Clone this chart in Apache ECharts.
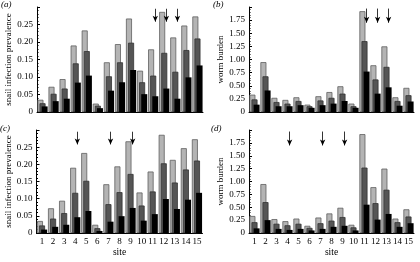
<!DOCTYPE html>
<html>
<head>
<meta charset="utf-8">
<script src="https://cdn.jsdelivr.net/npm/echarts@6/dist/echarts.min.js"></script>
<style>
html, body { margin: 0; padding: 0; background: #fff; }
#chart { width: 420px; height: 262px; }
</style>
</head>
<body>
<div id="chart"></div>
<script>
const sites = ['1', '2', '3', '4', '5', '6', '7', '8', '9', '10', '11', '12', '13', '14', '15'];

// snail infection prevalence: observed (light), two model fits (dark, black)
const prevObserved = [0.035, 0.072, 0.094, 0.190, 0.233, 0.024, 0.142, 0.194, 0.267, 0.118, 0.179, 0.286, 0.213, 0.247, 0.273];
const prevA_mid = [0.025, 0.052, 0.067, 0.139, 0.174, 0.018, 0.102, 0.142, 0.198, 0.085, 0.104, 0.169, 0.115, 0.177, 0.210];
const prevA_low = [0.016, 0.031, 0.038, 0.084, 0.104, 0.011, 0.061, 0.085, 0.120, 0.051, 0.045, 0.067, 0.038, 0.099, 0.133];
const prevC_mid = [0.022, 0.042, 0.058, 0.117, 0.152, 0.014, 0.084, 0.119, 0.172, 0.080, 0.121, 0.203, 0.147, 0.185, 0.211];
const prevC_low = [0.010, 0.018, 0.024, 0.046, 0.064, 0.006, 0.033, 0.049, 0.073, 0.036, 0.055, 0.099, 0.070, 0.097, 0.117];

// worm burden
const wormObserved = [0.33, 0.95, 0.27, 0.23, 0.28, 0.14, 0.30, 0.38, 0.49, 0.16, 1.92, 0.89, 1.25, 0.28, 0.46];
const wormB_mid = [0.24, 0.68, 0.19, 0.16, 0.21, 0.11, 0.22, 0.27, 0.35, 0.11, 1.35, 0.62, 0.86, 0.21, 0.32];
const wormB_low = [0.14, 0.41, 0.11, 0.11, 0.13, 0.08, 0.13, 0.16, 0.21, 0.08, 0.77, 0.35, 0.47, 0.12, 0.20];
const wormD_mid = [0.21, 0.60, 0.18, 0.15, 0.18, 0.10, 0.19, 0.24, 0.31, 0.11, 1.27, 0.58, 0.84, 0.21, 0.32];
const wormD_low = [0.09, 0.25, 0.08, 0.06, 0.08, 0.05, 0.08, 0.12, 0.14, 0.05, 0.55, 0.26, 0.37, 0.12, 0.19];

const arrowSitesTop = ['11', '12', '13'];
const arrowSitesBottom = ['4', '7', '9'];

const serif = 'Liberation Serif';

const grids = [
    {left: 37, top: 7, width: 166, height: 105},
    {left: 249, top: 7, width: 165, height: 105},
    {left: 36.5, top: 130, width: 166, height: 103},
    {left: 249, top: 130, width: 165, height: 103}
];

function makeX(i, showLabels) {
    return {
        type: 'category',
        gridIndex: i,
        data: sites,
        axisLine: {lineStyle: {color: '#000', width: 1}},
        axisTick: {alignWithLabel: true, length: 2, lineStyle: {color: '#000'}},
        axisLabel: {show: showLabels, fontFamily: serif, fontSize: 9, color: '#000', margin: 4, interval: 0},
        name: showLabels ? 'site' : '',
        nameLocation: 'middle',
        nameGap: 14,
        nameTextStyle: {fontFamily: serif, fontSize: 9.5, color: '#000'}
    }
}

function makeY(i, max, interval, name) {
    return {
        type: 'value',
        gridIndex: i,
        min: 0,
        max: max,
        interval: interval,
        splitLine: {show: false},
        axisLine: {show: true, lineStyle: {color: '#000', width: 1}},
        axisTick: {show: true, inside: true, length: 3, lineStyle: {color: '#000'}},
        minorTick: {show: true, splitNumber: 5, length: 1.5, lineStyle: {color: '#000'}},
        axisLabel: {
            fontFamily: serif, fontSize: 9, color: '#000', margin: 4,
            formatter: v => v === 0 ? '0' : (v >= max - 1e-9 ? '' : v.toFixed(2))
        },
        name: name,
        nameLocation: 'middle',
        nameGap: 23,
        nameTextStyle: {fontFamily: serif, fontSize: 9, color: '#000'}
    }
}

function arrows(list, top, bottom) {
    return {
        silent: true,
        animation: false,
        symbol: ['none', 'arrow'],
        symbolSize: [4, 6],
        lineStyle: {color: '#000', width: 0.8, type: 'solid'},
        label: {show: false},
        data: list.map(s => [{coord: [s, top]}, {coord: [s, bottom]}])
    }
}

function bars(i, light, mid, low, mark) {
    const common = {type: 'bar', xAxisIndex: i, yAxisIndex: i, barWidth: 6, barGap: '-65%', animation: false}
    return [
        Object.assign({data: light, itemStyle: {color: '#b4b4b4', borderColor: '#606060', borderWidth: 0.8}}, common),
        Object.assign({data: mid, itemStyle: {color: '#555555', borderColor: '#333333', borderWidth: 0.8}}, common),
        Object.assign({data: low, itemStyle: {color: '#000000'}, markLine: mark}, common)
    ]
}

const panelTitles = [
    {text: '(a)', left: 1, top: 0},
    {text: '(b)', left: 213, top: 0},
    {text: '(c)', left: 0, top: 124},
    {text: '(d)', left: 211, top: 124}
].map(t => Object.assign(t, {
    padding: 0,
    textStyle: {fontFamily: serif, fontSize: 9, fontStyle: 'italic', fontWeight: 'normal', color: '#000'}
}));

const option = {
    animation: false,
    backgroundColor: '#fff',
    title: panelTitles,
    grid: grids,
    xAxis: [makeX(0, false), makeX(1, false), makeX(2, true), makeX(3, true)],
    yAxis: [
        makeY(0, 0.3, 0.05, 'snail infection prevalence'),
        makeY(1, 2.0, 0.25, 'worm burden'),
        makeY(2, 0.3, 0.05, 'snail infection prevalence'),
        makeY(3, 2.0, 0.25, 'worm burden')
    ],
    series: [
        ...bars(0, prevObserved, prevA_mid, prevA_low, arrows(arrowSitesTop, 0.295, 0.258)),
        ...bars(1, wormObserved, wormB_mid, wormB_low, arrows(arrowSitesTop, 1.97, 1.70)),
        ...bars(2, prevObserved, prevC_mid, prevC_low, arrows(arrowSitesBottom, 0.295, 0.258)),
        ...bars(3, wormObserved, wormD_mid, wormD_low, arrows(arrowSitesBottom, 1.97, 1.70))
    ]
}

const myChart = echarts.init(document.getElementById('chart'));
myChart.setOption(option);
</script>
</body>
</html>
